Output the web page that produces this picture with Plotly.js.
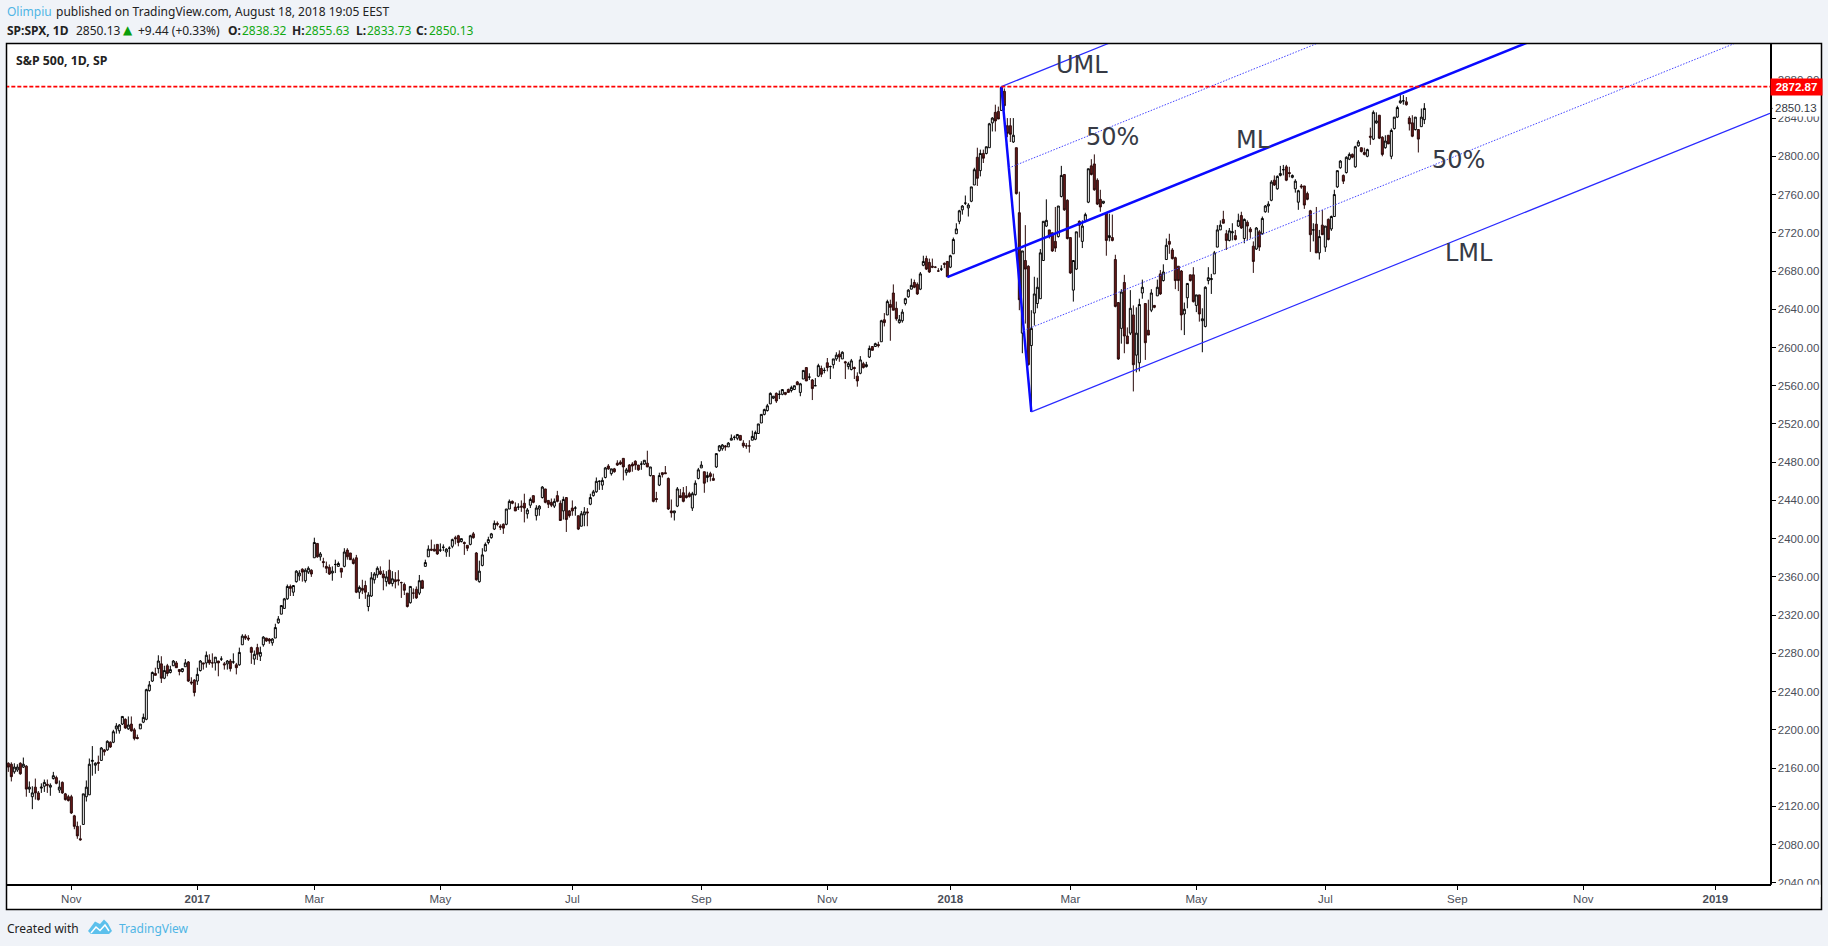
<!DOCTYPE html>
<html><head><meta charset="utf-8">
<script src="https://cdn.plot.ly/plotly-3.0.1.min.js"></script>
<style>html,body{margin:0;padding:0;background:#f0f3f8}#c{width:1828px;height:946px}</style>
</head><body><div id="c"></div>
<script>
const opens=[2165,2164,2156,2158,2165,2161,2162,2138,2130,2140,
2134,2139,2141,2143,2140,2149,2150,2137,2145,2133,
2130,2130,2110,2099,2086,2101,2130,2132,2167,2163,
2166,2168,2179,2179,2187,2187,2201,2199,2206,2211,
2201,2206,2200,2192,2201,2208,2211,2241,2251,2259,
2264,2269,2254,2267,2260,2267,2270,2263,2261,2266,
2271,2250,2252,2251,2262,2270,2270,2273,2270,2270,
2272,2274,2269,2269,2272,2271,2268,2268,2289,2298,
2296,2286,2274,2286,2277,2289,2296,2295,2291,2296,
2312,2321,2327,2337,2350,2344,2355,2361,2368,2356,
2365,2367,2380,2395,2381,2376,2371,2370,2364,2373,
2371,2369,2371,2388,2385,2378,2380,2344,2348,2351,
2329,2340,2357,2362,2366,2363,2355,2367,2353,2357,
2357,2354,2352,2343,2333,2343,2347,2343,2356,2371,
2381,2389,2389,2394,2388,2391,2386,2390,2392,2401,
2403,2397,2396,2393,2394,2405,2385,2355,2372,2387,
2396,2401,2410,2416,2413,2415,2415,2431,2439,2433,
2433,2434,2437,2426,2435,2445,2424,2431,2443,2452,
2440,2438,2434,2445,2437,2429,2443,2429,2432,2432,
2424,2413,2425,2428,2436,2445,2449,2460,2456,2464,
2476,2468,2473,2479,2480,2484,2469,2477,2478,2481,
2477,2478,2478,2479,2466,2466,2442,2456,2469,2469,
2463,2429,2427,2434,2445,2448,2445,2447,2432,2446,
2463,2474,2470,2464,2468,2463,2475,2492,2494,2497,
2496,2503,2506,2505,2508,2500,2497,2497,2503,2504,
2510,2521,2530,2534,2541,2547,2552,2551,2551,2553,
2556,2555,2556,2564,2553,2567,2579,2569,2566,2560,
2570,2578,2576,2584,2580,2582,2588,2593,2588,2585,
2580,2577,2579,2570,2573,2583,2580,2590,2601,2601,
2603,2606,2629,2634,2645,2657,2641,2626,2628,2646,
2653,2661,2668,2666,2661,2686,2693,2689,2685,2684,
2680,2682,2688,2690,2684,2698,2719,2732,2744,2751,
2746,2753,2770,2799,2785,2803,2803,2809,2835,2846,
2847,2848,2868,2832,2832,2815,2809,2741,2615,2691,
2685,2602,2636,2646,2651,2691,2727,2723,2720,2711,
2716,2758,2781,2754,2715,2660,2682,2732,2711,2733,
2752,2790,2792,2775,2755,2751,2741,2715,2715,2692,
2647,2620,2668,2612,2615,2634,2592,2584,2657,2646,
2618,2639,2644,2654,2677,2670,2692,2711,2702,2694,
2685,2680,2635,2652,2676,2676,2644,2655,2628,2622,
2670,2671,2677,2705,2723,2734,2719,2712,2720,2717,
2727,2738,2714,2731,2724,2706,2703,2721,2719,2742,
2748,2754,2775,2766,2780,2786,2789,2783,2778,2766,
2752,2769,2769,2761,2743,2723,2729,2699,2728,2705,
2734,2724,2737,2768,2788,2780,2783,2797,2802,2789,
2811,2809,2804,2800,2821,2818,2835,2843,2820,2809,
2822,2800,2829,2841,2856,2858,2857,2840,2835,2828,
2828,2831,2838.32];
const highs=[2166,2166,2165,2164,2166,2171,2163,2146,2141,2149,
2136,2144,2148,2148,2144,2156,2152,2147,2146,2134,
2132,2132,2111,2104,2100,2133,2147,2170,2183,2166,
2173,2182,2180,2189,2188,2200,2207,2206,2214,2212,
2214,2214,2202,2195,2206,2217,2243,2251,2261,2265,
2278,2277,2267,2269,2267,2273,2272,2263,2264,2274,
2272,2255,2253,2265,2273,2270,2282,2279,2280,2276,
2272,2277,2271,2273,2274,2280,2270,2286,2300,2300,
2299,2287,2283,2290,2287,2298,2296,2296,2296,2311,
2319,2330,2338,2352,2352,2351,2367,2367,2369,2369,
2371,2368,2401,2395,2386,2380,2376,2373,2371,2378,
2376,2369,2390,2390,2385,2380,2383,2351,2357,2356,
2344,2365,2365,2371,2371,2367,2366,2378,2366,2365,
2367,2355,2354,2343,2350,2348,2350,2362,2357,2378,
2393,2399,2394,2394,2395,2394,2390,2392,2400,2403,
2404,2400,2397,2393,2404,2407,2386,2377,2390,2396,
2402,2406,2419,2418,2415,2416,2431,2441,2440,2438,
2437,2440,2447,2432,2443,2445,2435,2435,2455,2452,
2440,2442,2442,2450,2440,2444,2443,2430,2440,2434,
2424,2429,2433,2432,2447,2451,2464,2461,2464,2475,
2478,2473,2474,2482,2482,2484,2474,2478,2480,2482,
2477,2481,2482,2492,2475,2466,2449,2469,2469,2476,
2464,2441,2429,2454,2452,2454,2455,2449,2449,2461,
2474,2481,2470,2470,2470,2468,2489,2498,2499,2498,
2501,2509,2508,2509,2508,2503,2500,2503,2513,2513,
2520,2530,2536,2541,2553,2549,2553,2555,2556,2553,
2557,2560,2560,2565,2563,2576,2579,2573,2567,2568,
2583,2581,2579,2589,2581,2588,2595,2597,2596,2586,
2585,2588,2580,2574,2591,2585,2585,2602,2601,2605,
2606,2629,2636,2650,2650,2666,2648,2634,2640,2652,
2661,2672,2671,2668,2679,2696,2696,2693,2693,2685,
2683,2686,2689,2690,2697,2715,2730,2744,2749,2759,
2751,2768,2788,2809,2807,2807,2810,2835,2841,2854,
2852,2873,2871,2840,2840,2840,2809,2763,2701,2728,
2686,2639,2674,2673,2703,2732,2755,2723,2720,2747,
2748,2790,2781,2755,2715,2691,2721,2733,2733,2741,
2787,2797,2802,2777,2765,2753,2741,2740,2739,2697,
2647,2661,2676,2621,2660,2644,2642,2651,2671,2646,
2650,2661,2644,2671,2681,2687,2714,2719,2704,2695,
2685,2681,2647,2667,2676,2684,2655,2655,2641,2664,
2684,2677,2701,2728,2733,2743,2723,2725,2730,2723,
2740,2742,2735,2733,2726,2711,2726,2723,2737,2749,
2753,2775,2780,2780,2790,2791,2791,2789,2781,2776,
2765,2771,2769,2763,2744,2730,2747,2723,2744,2727,
2735,2738,2765,2785,2796,2781,2800,2804,2803,2811,
2817,2809,2809,2808,2830,2848,2846,2843,2821,2822,
2822,2829,2841,2853,2864,2864,2862,2842,2843,2841,
2828,2850,2855.63];
const lows=[2156,2146,2154,2156,2153,2160,2130,2134,2117,2127,
2126,2134,2135,2134,2131,2148,2143,2134,2133,2126,
2125,2112,2096,2086,2084,2101,2125,2132,2152,2154,
2157,2168,2173,2178,2181,2186,2196,2196,2205,2201,
2200,2198,2189,2190,2201,2207,2210,2240,2250,2257,
2259,2249,2253,2256,2259,2267,2265,2257,2260,2266,
2250,2247,2235,2247,2261,2263,2265,2268,2265,2262,
2256,2272,2263,2263,2261,2269,2258,2267,2289,2294,
2293,2269,2268,2273,2272,2287,2292,2290,2288,2296,
2311,2321,2327,2336,2340,2340,2354,2356,2355,2354,
2363,2360,2380,2380,2377,2370,2364,2362,2356,2364,
2371,2359,2370,2378,2378,2373,2343,2337,2342,2337,
2324,2339,2353,2359,2362,2346,2350,2352,2350,2348,
2351,2338,2341,2328,2332,2337,2337,2341,2348,2371,
2381,2387,2387,2383,2386,2387,2381,2381,2390,2394,
2392,2396,2383,2387,2393,2400,2356,2354,2371,2387,
2394,2400,2409,2413,2409,2405,2414,2431,2436,2429,
2430,2428,2417,2421,2432,2437,2419,2424,2442,2437,
2432,2433,2432,2438,2419,2420,2407,2422,2424,2424,
2409,2413,2413,2413,2435,2444,2448,2451,2451,2463,
2472,2466,2469,2476,2477,2461,2466,2469,2470,2472,
2471,2472,2477,2475,2465,2438,2438,2455,2464,2468,
2430,2422,2419,2433,2443,2438,2442,2443,2429,2445,
2462,2474,2448,2459,2460,2461,2474,2491,2492,2492,
2496,2503,2503,2503,2503,2495,2494,2490,2503,2503,
2510,2521,2529,2533,2541,2546,2542,2546,2550,2550,
2553,2553,2556,2561,2549,2567,2565,2566,2545,2560,
2569,2569,2573,2575,2567,2578,2586,2585,2588,2567,
2577,2576,2567,2559,2572,2578,2579,2589,2597,2601,
2600,2606,2622,2634,2607,2639,2628,2625,2626,2644,
2652,2661,2662,2655,2660,2685,2681,2678,2683,2683,
2679,2680,2683,2674,2683,2698,2719,2729,2739,2749,
2737,2752,2770,2769,2779,2793,2802,2809,2826,2826,
2839,2848,2848,2820,2815,2814,2760,2639,2594,2625,
2581,2533,2623,2641,2651,2691,2726,2714,2700,2700,
2715,2757,2743,2713,2677,2648,2681,2715,2704,2731,
2751,2780,2764,2749,2742,2750,2696,2711,2711,2642,
2587,2604,2594,2604,2613,2554,2574,2575,2651,2587,
2613,2637,2641,2654,2655,2669,2692,2698,2692,2661,
2659,2618,2613,2641,2669,2647,2637,2627,2595,2621,
2666,2656,2677,2705,2723,2730,2702,2711,2712,2712,
2726,2724,2709,2712,2714,2678,2702,2701,2718,2741,
2741,2753,2769,2765,2779,2780,2774,2778,2777,2762,
2744,2766,2745,2754,2700,2711,2699,2692,2718,2700,
2712,2722,2737,2767,2787,2771,2782,2796,2798,2788,
2810,2804,2801,2799,2812,2817,2834,2818,2800,2808,
2813,2797,2828,2840,2855,2854,2853,2827,2820,2827,
2804,2831,2833.73];
const closes=[2161,2151,2161,2161,2154,2164,2138,2140,2134,2134,
2127,2140,2145,2142,2142,2152,2144,2140,2134,2127,
2126,2113,2099,2089,2085,2133,2140,2164,2168,2165,
2165,2181,2177,2188,2182,2198,2204,2205,2214,2202,
2205,2199,2191,2191,2206,2213,2242,2247,2260,2257,
2272,2254,2262,2259,2263,2272,2265,2261,2264,2270,
2251,2249,2239,2258,2272,2269,2278,2270,2270,2276,
2270,2274,2268,2272,2264,2271,2265,2281,2298,2296,
2295,2281,2279,2279,2281,2297,2293,2293,2295,2307,
2316,2330,2337,2350,2348,2351,2366,2364,2365,2367,
2369,2363,2396,2381,2384,2375,2369,2363,2366,2373,
2374,2365,2386,2381,2378,2374,2344,2349,2346,2344,
2341,2359,2363,2369,2363,2359,2360,2353,2358,2355,
2356,2354,2346,2329,2350,2343,2338,2356,2348,2375,
2389,2388,2387,2384,2388,2391,2389,2390,2399,2400,
2396,2400,2395,2390,2403,2401,2357,2366,2383,2394,
2399,2405,2416,2415,2412,2411,2431,2439,2437,2429,
2433,2433,2432,2430,2441,2438,2432,2434,2454,2438,
2436,2435,2439,2439,2419,2441,2420,2424,2429,2432,
2410,2426,2428,2427,2443,2449,2460,2460,2461,2474,
2473,2473,2470,2477,2478,2475,2472,2470,2476,2477,
2472,2478,2482,2475,2475,2439,2441,2466,2467,2468,
2431,2427,2429,2452,2443,2439,2443,2444,2447,2458,
2472,2477,2458,2466,2465,2461,2489,2497,2498,2496,
2500,2505,2506,2509,2503,2497,2497,2497,2507,2511,
2520,2530,2535,2539,2552,2549,2544,2551,2556,2551,
2553,2558,2560,2561,2562,2576,2565,2569,2557,2560,
2581,2572,2576,2579,2580,2588,2592,2590,2595,2584,
2583,2586,2578,2565,2587,2579,2582,2599,2597,2604,
2602,2628,2626,2648,2642,2639,2630,2629,2637,2651,
2660,2665,2663,2656,2677,2690,2682,2679,2684,2684,
2680,2682,2687,2674,2696,2713,2724,2743,2748,2751,
2749,2768,2786,2777,2803,2798,2810,2834,2840,2837,
2839,2872,2853,2824,2823,2822,2761,2650,2701,2682,
2582,2620,2656,2663,2699,2732,2733,2716,2701,2704,
2748,2780,2744,2714,2678,2691,2721,2728,2727,2739,
2787,2781,2765,2750,2747,2753,2712,2717,2712,2643,
2588,2658,2612,2604,2641,2582,2615,2645,2663,2605,
2613,2657,2642,2663,2656,2679,2707,2708,2693,2670,
2670,2634,2640,2667,2670,2648,2655,2635,2630,2663,
2673,2672,2699,2723,2728,2730,2712,2722,2721,2713,
2733,2725,2734,2727,2721,2690,2725,2705,2735,2748,
2750,2773,2770,2779,2782,2786,2775,2782,2780,2774,
2764,2768,2749,2755,2718,2723,2699,2716,2718,2727,
2713,2737,2760,2785,2795,2774,2799,2802,2799,2810,
2815,2805,2802,2807,2820,2846,2837,2819,2802,2816,
2813,2827,2841,2851,2858,2858,2854,2834,2821,2841,
2818,2841,2850.13];

const xTickBars=[21,63,102,144,188,231,273,314,354,396,439,483,525,569];
const xTickLabels=["Nov","<b>2017</b>","Mar","May","Jul","Sep","Nov","<b>2018</b>","Mar","May","Jul","Sep","Nov","<b>2019</b>"];
const yTickValues=[2040,2080,2120,2160,2200,2240,2280,2320,2360,2400,2440,2480,2520,2560,2600,2640,2680,2720,2760,2800,2840,2880];

const lastClose=2850.13, resistance=2872.87;
const stickBars=[331,341],     stickPrices=[2872.87,2532.69];
const medianBars=[313,587.2],  medianPrices=[2673.61,3021.6];
const upperBars=[331,587.2],   upperPrices=[2872.87,3197.6];
const lowerBars=[341,587.2],   lowerPrices=[2532.69,2844.9];
const half1Bars=[333.5,587.2], half1Prices=[2787.8,3109.5];
const half2Bars=[338.5,587.2], half2Prices=[2617.7,2933];

const L=7,R=1770,T=44,B=884;
const px=v=>(v-L)/(R-L), py=v=>(B-v)/(B-T);
const bars=opens.map((_,i)=>i);

function pl(x,y,color,width,dash){return {type:'scatter',mode:'lines',x:x,y:y,hoverinfo:'skip',showlegend:false,
  line:{color:color,width:width,dash:dash||'solid'}};}

const traces=[
 {type:'candlestick',x:bars,open:opens,high:highs,low:lows,close:closes,showlegend:false,hoverinfo:'skip',
  whiskerwidth:0,
  increasing:{line:{color:'#000000',width:1},fillcolor:'#ffffff'},
  decreasing:{line:{color:'#2a0a0a',width:1},fillcolor:'#6b1a1a'}},
 pl(stickBars,stickPrices,'#0a0aff',2.5),
 pl(medianBars,medianPrices,'#0a0aff',2.5),
 pl(upperBars,upperPrices,'#2a2aff',1.2),
 pl(lowerBars,lowerPrices,'#2a2aff',1.2),
 pl(half1Bars,half1Prices,'#4444ff',1,'1.5px,1.5px'),
 pl(half2Bars,half2Prices,'#4444ff',1,'1.5px,1.5px'),
 pl([-1,587.2],[resistance,resistance],'#ff0000',1.8,'4px,2px')
];

const HF='"Noto Sans",Tahoma,sans-serif';
function tx(text,x,y,size,color,bold,fam){return {xref:'paper',yref:'paper',x:px(x),y:py(y),xanchor:'left',yanchor:'middle',
  showarrow:false,text:bold?'<b>'+text+'</b>':text,font:{family:fam||HF,size:size,color:color},align:'left',borderpad:0};}
function lab(text,bar,price){return {xref:'x',yref:'y',x:bar,y:price,xanchor:'center',yanchor:'middle',showarrow:false,text:text,
  font:{family:'"DejaVu Sans"',size:24,color:'#363a45'}};}
const G='#12a812',K='#222222',TVB='#4fb5e5';
const annotations=[
 tx('Olimpiu',6,11.5,12,TVB),
 tx('published on TradingView.com, August 18, 2018 19:05 EEST',54.5,11.5,12,K),
 tx('SP:SPX, 1D',6,30,12,K,true),
 tx('2850.13',74.5,30,12,K),
 tx('▲',122,30,12,'#0a9e0a',false,'"DejaVu Sans"'),
 tx('+9.44 (+0.33%)',137,30,12,K),
 tx('O:',226.5,30,12,K,true), tx('2838.32',240.5,30,12,G),
 tx('H:',290.5,30,12,K,true), tx('2855.63',304,30,12,G),
 tx('L:',354.5,30,12,K,true), tx('2833.73',365.5,30,12,G),
 tx('C:',415,30,12,K,true), tx('2850.13',427.5,30,12,G),
 tx('S&amp;P 500, 1D, SP',15,60,12.3,K,true),
 tx('Created with',6,928,12,K),
 tx('TradingView',118,928,12,TVB),
 lab('UML',357.8,2895.5), lab('50%',367.9,2820.5), lab('ML',415.2,2817), lab('50%',483.4,2796), lab('LML',486.9,2699),
 {xref:'paper',yref:'y',x:px(1796),y:lastClose,xanchor:'center',yanchor:'middle',showarrow:false,text:'2850.13',
  bgcolor:'#ffffff',borderpad:2,font:{family:'"Liberation Sans"',size:11.5,color:'#363a45'}},
 {xref:'paper',yref:'y',x:px(1796),y:resistance,xanchor:'center',yanchor:'middle',showarrow:false,width:51,height:16,
  text:'<b>2872.87</b>',bgcolor:'#ff0000',borderpad:0,font:{family:'"Liberation Sans"',size:11.5,color:'#ffffff'}}
];
function rect(x0,y0,x1,y1,fill,line,layer,lw){return {type:'rect',xref:'paper',yref:'paper',x0:px(x0),y0:py(y0),x1:px(x1),y1:py(y1),
  fillcolor:fill,line:{color:line||'rgba(0,0,0,0)',width:lw===undefined?0:lw},layer:layer};}
const P=(x,y)=>px(x)+','+py(y);
const shapes=[
 rect(6.5,43.5,1821.5,909.5,'#ffffff','#000000','below',1.5),
 rect(1771,884.8,1820.5,897,'#ffffff',null,'above'),
 {type:'line',xref:'paper',yref:'y',x0:px(1770),x1:px(1774),y0:lastClose,y1:lastClose,line:{color:'#000',width:1},layer:'above'},
 {type:'path',xref:'paper',yref:'paper',layer:'above',fillcolor:'#5cc0ec',line:{width:0},
  path:'M'+P(88,931)+'L'+P(95,921.5)+'L'+P(100,924)+'L'+P(104,919.5)+'L'+P(108,923.5)+'L'+P(112,931)+'L'+P(109,934)+'L'+P(91,934)+'Z'},
 {type:'path',xref:'paper',yref:'paper',layer:'above',line:{color:'#ffffff',width:1.5},
  path:'M'+P(91,933)+'L'+P(96,927)+'L'+P(100,930.5)+'L'+P(105,925)+'L'+P(109,931)}
];

const tf={family:'"Liberation Sans"',size:11.5,color:'#4a4e58'};
const layout={width:1828,height:946,margin:{l:L,r:1828-R,t:T,b:946-B,pad:0},
 paper_bgcolor:'#f0f3f8',plot_bgcolor:'rgba(0,0,0,0)',showlegend:false,hovermode:false,dragmode:false,
 boxgap:0.33,boxgroupgap:0,
 font:{family:'"Liberation Sans"'},annotations:annotations,shapes:shapes,
 xaxis:{type:'linear',range:[-0.444,587.22],tickmode:'array',tickvals:xTickBars,ticktext:xTickLabels,
  showgrid:false,zeroline:false,showline:true,linecolor:'#000',linewidth:1.5,ticks:'outside',ticklen:4,tickcolor:'#000',tickwidth:1,
  tickfont:tf,rangeslider:{visible:false},fixedrange:true,tickangle:0},
 yaxis:{type:'linear',side:'right',range:[2038.7,2917.5],tickmode:'array',tickvals:yTickValues,
  ticktext:yTickValues.map(v=>v.toFixed(2)),
  showgrid:false,zeroline:false,showline:true,linecolor:'#000',linewidth:1.5,ticks:'outside',ticklen:4,tickcolor:'#000',tickwidth:1,
  tickfont:tf,fixedrange:true}
};
Plotly.newPlot('c',traces,layout,{displayModeBar:false,staticPlot:true,responsive:false});
</script></body></html>
